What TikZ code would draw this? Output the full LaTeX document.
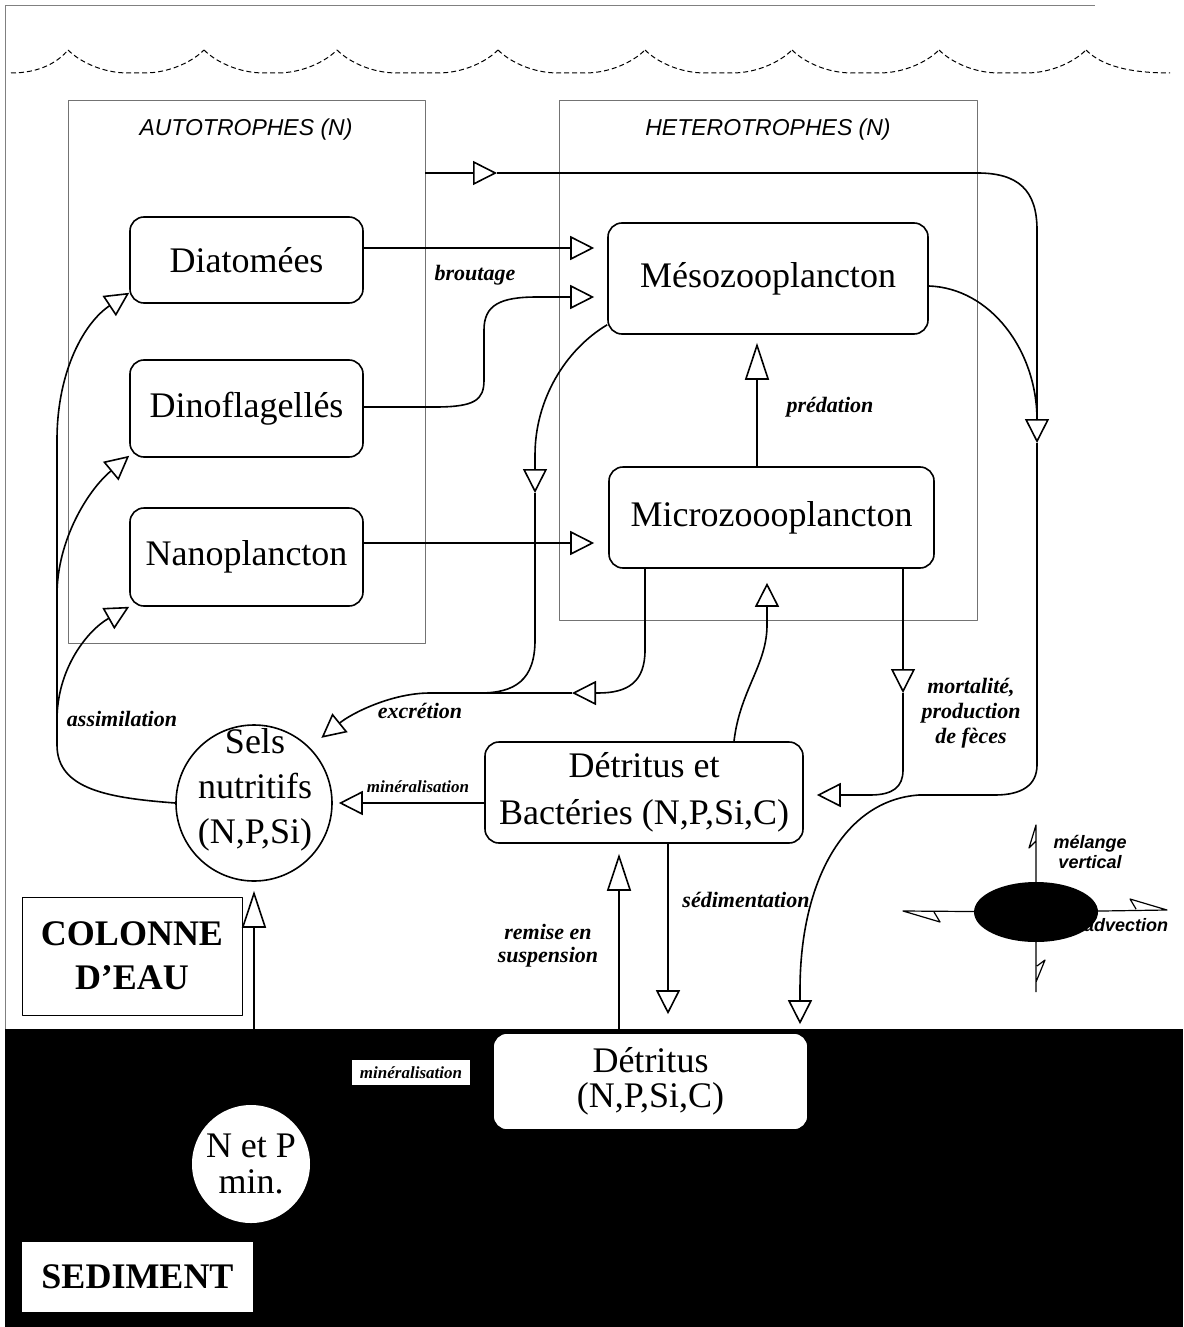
\documentclass[tikz,border=0pt]{standalone}
\usepackage{fontspec}
\setmainfont{Liberation Serif}
\newfontfamily\sansfont{Liberation Sans}
\usetikzlibrary{arrows.meta,shapes.geometric}

\newcommand{\boxfont}{\fontsize{36}{47}\selectfont}
\newcommand{\fluxfont}{\fontsize{22}{25}\selectfont\bfseries\itshape}
\newcommand{\smallflux}{\fontsize{17}{20}\selectfont\bfseries\itshape}
\newcommand{\zonefont}{\sansfont\itshape\fontsize{23}{26}\selectfont}
\newcommand{\iconfont}{\sansfont\bfseries\itshape\fontsize{18}{20}\selectfont}

\begin{document}
\begin{tikzpicture}[x=1pt, y=-1pt, line join=round,
	zone/.style={draw=black!55, line width=0.9pt, inner sep=0pt},
	zonetitle/.style={font=\zonefont, inner sep=0pt},
	box/.style={draw, line width=1.6pt, rounded corners=14pt, align=center,
		font=\boxfont, inner sep=0pt},
	pool/.style={circle, draw, line width=1.6pt, inner sep=0pt},
	legend/.style={draw, fill=white, line width=1pt, inner sep=0pt, align=center,
		font=\fontsize{36}{44}\selectfont\bfseries},
	wire/.style={line width=1.6pt},
	flux/.style={wire, -{Triangle[open, length=24pt, width=24pt]}},
	longflux/.style={wire, -{Triangle[open, length=37pt, width=24pt]}},
	tag/.style={font=\fluxfont, align=center, inner sep=1pt},
	sea/.style={dash pattern=on 5pt off 3pt, line width=1pt}]
\useasboundingbox (0,0) rectangle (1183,1327);

% cadre et surface
\draw[black!50, line width=0.8pt] (5,1029) -- (5,5) -- (1095,5);
\draw[sea] (11,73) .. controls (40,73) and (58,62) .. (68,50);
\foreach \a/\b in {68/204, 204/337, 337/498, 498/645, 645/792, 792/939, 939/1086}
	\draw[sea] (\a,50) .. controls (\a+12,62) and (\a+35,73) .. (\a+60,73)
		-- (\b-60,73) .. controls (\b-35,73) and (\b-12,62) .. (\b,50);
\draw[sea] (1086,50) .. controls (1098,62) and (1120,73) .. (1170,73);

% sediment
\fill[black] (5,1029) rectangle (1183,1327);

% compartiments
\node[zone, minimum width=357pt, minimum height=543pt] (auto) at (246.5,371.5) {};
\node[zone, minimum width=418pt, minimum height=520pt] (hetero) at (768,360) {};
\node[zonetitle] (autotitle) at (246,130) {AUTOTROPHES (N)};
\node[zonetitle] (heterotitle) at (768,130) {HETEROTROPHES (N)};

\node[box, minimum width=233pt, minimum height=86pt] (diat) at (246.5,260) {Diatomées};
\node[box, minimum width=233pt, minimum height=97pt] (dino) at (246.5,408.5) {Dinoflagellés};
\node[box, minimum width=233pt, minimum height=98pt] (nano) at (246.5,557) {Nanoplancton};
\node[box, minimum width=320pt, minimum height=111pt] (meso) at (768,278.5) {Mésozooplancton};
\node[box, minimum width=325pt, minimum height=101pt] (micro) at (771.5,517.5) {Microzoooplancton};
\node[box, minimum width=318pt, minimum height=101pt] (detbac) at (644,792.5) {Détritus et\\Bactéries (N,P,Si,C)};
\node[box, fill=white, minimum width=315pt, minimum height=97pt,
	font=\fontsize{36}{35}\selectfont] (detsed) at (650.5,1081.5) {Détritus\\(N,P,Si,C)};

\node[pool, minimum size=156pt] (sels) at (254,803) {};
\node[font=\fontsize{36}{45}\selectfont, align=center, inner sep=0pt] (selstext) at (255,790)
	{Sels\\nutritifs\\(N,P,Si)};
\node[circle, fill=white, minimum size=118pt, inner sep=0pt, align=center,
	font=\fontsize{36}{36}\selectfont] (np) at (251,1164) {N et P\\min.};

\node[legend, minimum width=220pt, minimum height=118pt] (colonne) at (132,956) {COLONNE\\D'EAU};
\node[legend, draw=none, minimum width=231pt, minimum height=70pt] (sediment) at (137.5,1277) {SEDIMENT};
\node[fill=white, minimum width=118pt, minimum height=25pt, inner sep=0pt,
	font=\smallflux] (sedmin) at (411,1072.5) {minéralisation};

% broutage
\draw[flux] (auto.east |- 0,173) -- (497,173) coordinate (gmid);
\draw[wire] (gmid) -- (hetero.west |- gmid);
\draw[flux, shorten >=13pt] (diat.east |- 0,248) -- (meso.west |- 0,248);
\draw[flux, shorten >=13pt] (dino.east |- 0,407) -- (435,407)
	.. controls (475,407) and (484,400) .. (484,380) -- (484,330)
	.. controls (484,305) and (500,297) .. (537,297) -- (meso.west |- 0,297);
\draw[flux, shorten >=14pt] (nano.east |- 0,543) -- (micro.west |- 0,543);
\draw[longflux, shorten >=8pt] (micro.north -| 757,0) -- (meso.south -| 757,0);

% mortalite
\draw[flux] (hetero.west |- gmid) -- (hetero.east |- gmid)
	.. controls (1018,173) and (1037,190) .. (1037,230) -- (1037,443) coordinate (rmid);
\draw[wire] (meso.east |- 0,286) .. controls (990,288) and (1037,350) .. (1037,420);
\draw[wire] (rmid) -- (1037,765) .. controls (1037,785) and (1022,795) .. (995,795)
	-- (919,795) coordinate (junc);
\draw[flux] (micro.south -| 903,0) -- (903,693) coordinate (mmid);
\draw[flux, shorten >=13pt] (mmid) -- (903,770) .. controls (903,787) and (893,795) .. (870,795)
	-- (detbac.east |- 0,795);
\draw[flux, shorten >=8pt] (junc) .. controls (845,800) and (800,880) .. (800,990)
	-- (detsed.north -| 800,0);

% excretion
\draw[flux] ([yshift=10pt]meso.south west) .. controls (565,350) and (535,400) .. (535,455)
	-- (535,493) coordinate (emid);
\draw[flux, shorten >=15pt] (emid) -- (535,640) .. controls (535,680) and (515,693) .. (480,693)
	coordinate (ejoin) -- (430,693) .. controls (392,693) and (352,713) .. (sels.north east);
\draw[flux] (micro.south -| 645,0) -- (645,650) .. controls (645,682) and (628,693) .. (598,693)
	-- (572,693) coordinate (xmid);
\draw[wire] (xmid) -- (ejoin);

% detritus
\draw[flux, shorten >=14pt] (detbac.north -| 734,0) .. controls (740,690) and (767,665) .. (767,625)
	-- (micro.south -| 767,0);
\draw[flux, shorten >=6pt] (detbac.west |- sels.east) -- (sels.east);
\draw[longflux, shorten >=10pt] (detsed.north -| 619,0) -- (detbac.south -| 619,0);
\draw[flux, shorten >=18pt] (detbac.south -| 668,0) -- (detsed.north -| 668,0);
\draw[longflux, shorten >=9pt] (np.north -| sels.south) -- (sels.south);

% assimilation
\draw[wire] (sels.west) .. controls (110,798) and (57,790) .. (57,745) -- (57,440) coordinate (atop);
\draw[flux] (atop) .. controls (57,370) and (85,322) .. ([yshift=11pt]diat.south west);
\draw[flux] (57,595) .. controls (57,540) and (88,490) .. ([yshift=2pt]dino.south west);
\draw[flux] (57,720) .. controls (57,668) and (88,630) .. (nano.south west);

% etiquettes
\node[tag] (broutlab) at (475,275) {broutage};
\node[tag] (predlab) at (830,407) {prédation};
\node[tag] (assimlab) at (122,719) {assimilation};
\node[tag] (excrlab) at (420,711) {excrétion};
\node[tag, font=\smallflux] (minlab) at (418,787) {minéralisation};
\node[tag] (mortlab) at (971,713) {mortalité,\\production\\de fèces};
\node[tag] (sedlab) at (746,900) {sédimentation};
\node[tag, font=\fontsize{22}{23}\selectfont\bfseries\itshape] (remlab) at (548,946) {remise en\\suspension};

% melange et advection
\node[font=\iconfont, inner sep=0pt, anchor=west] (advlab) at (1084,925) {advection};
\node[ellipse, fill=black, minimum width=124pt, minimum height=60pt, inner sep=0pt] (mix) at (1036,912) {};
\node[font=\fontsize{18}{20}\sansfont\bfseries\itshape\selectfont, align=center, inner sep=0pt]
	(mixlab) at (1090,852) {mélange\\vertical};
\coordinate (mixup) at (1036,825);
\coordinate (mixdown) at (1036,992);
\coordinate (mixleft) at (903,911);
\coordinate (mixright) at (1167,910);
\draw[line width=1.2pt] (mix) -- (mixup) -- ++(-7,23) -- ++(7,-7);
\draw[line width=1.2pt] (mix) -- (mixdown) ([yshift=10pt]mixdown) -- ++(9,-22) -- ++(-8,6);
\draw[line width=1.2pt] (mix) -- (mixleft) -- ++(37,11) -- ++(-6,-10);
\draw[line width=1.2pt] (mix) -- (mixright) -- ++(-37,-11) -- ++(6,10);
\end{tikzpicture}
\end{document}
